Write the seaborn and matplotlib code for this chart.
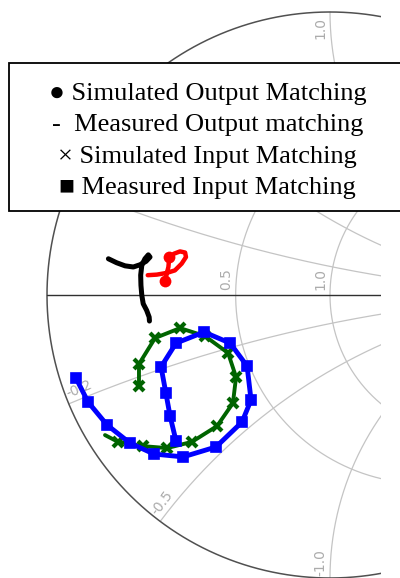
import numpy as np
import matplotlib
matplotlib.use("Agg")
import matplotlib.pyplot as plt
import seaborn as sns
from matplotlib.patches import Rectangle

# Simulated Output Matching (red, dots at two points)
sim_out_re = [-0.644, -0.612, -0.577, -0.548, -0.524, -0.509, -0.512, -0.530,
              -0.551, -0.568, -0.571, -0.577, -0.582]
sim_out_im = [0.070, 0.072, 0.078, 0.087, 0.111, 0.134, 0.150, 0.154,
              0.146, 0.134, 0.099, 0.075, 0.050]
sim_out_marks = [9, 12]

# Measured Output Matching (black)
meas_out_re = [-0.783, -0.754, -0.724, -0.695, -0.671, -0.650, -0.636, -0.642,
               -0.654, -0.665, -0.669, -0.668, -0.665, -0.660, -0.648, -0.639,
               -0.638]
meas_out_im = [0.128, 0.114, 0.103, 0.099, 0.107, 0.119, 0.134, 0.142,
               0.128, 0.105, 0.070, 0.034, -0.001, -0.031, -0.054, -0.078,
               -0.092]

# Simulated Input Matching (green, x markers)
sim_in_re = [-0.675, -0.675, -0.618, -0.530, -0.442, -0.360, -0.332, -0.343,
             -0.399, -0.488, -0.576, -0.661, -0.749, -0.795]
sim_in_im = [-0.322, -0.244, -0.152, -0.117, -0.145, -0.205, -0.290, -0.382,
             -0.463, -0.519, -0.541, -0.534, -0.519, -0.495]
sim_in_marks = list(range(13))

# Measured Input Matching (blue, square markers)
meas_in_re = [-0.898, -0.855, -0.788, -0.707, -0.622, -0.519, -0.403, -0.311,
              -0.279, -0.293, -0.353, -0.445, -0.544, -0.597, -0.580, -0.565,
              -0.544]
meas_in_im = [-0.293, -0.378, -0.459, -0.523, -0.562, -0.572, -0.537, -0.449,
              -0.371, -0.251, -0.170, -0.131, -0.170, -0.254, -0.346, -0.428,
              -0.516]

# Smith chart grid values and legend text
grid_r = [0.5, 1.0, 2.0, 5.0]
grid_x = [0.2, 0.5, 1.0, 2.0, 5.0]
r_labels = {0.5: "0.5", 1.0: "1.0"}
x_labels = {0.2: "0.2", 0.5: "0.5", 1.0: "1.0",
            -0.2: "-0.2", -0.5: "-0.5", -1.0: "-1.0"}
legend_lines = ["\u25cf Simulated Output Matching",
                "-  Measured Output matching",
                "\u00d7 Simulated Input Matching",
                "\u25a0 Measured Input Matching"]

# ---- Figure ----
sns.set_style("white")
plt.rcParams["font.family"] = ["DejaVu Sans"]

W, H = 400, 578
fig = plt.figure(figsize=(W / 100, H / 100), dpi=100)
S = 283.0  # pixels per unit of reflection coefficient
cx, cy = 330.0, 295.0
ax = fig.add_axes([0, 0, 381 / W, 1])
ax.set_xlim(-cx / S, (381 - cx) / S)
ax.set_ylim(-(H - cy) / S, cy / S)
ax.axis("off")

gc = "#c4c4c4"
tt = np.linspace(0, 2 * np.pi, 1441)
for r in grid_r:
    c = r / (1 + r)
    rad = 1 / (1 + r)
    ax.plot(c + rad * np.cos(tt), rad * np.sin(tt), color=gc, lw=0.9, zorder=1)
rr = np.concatenate([np.linspace(0, 1, 300), np.logspace(0, 4, 600)])
for xv in grid_x:
    for s in (1, -1):
        g = (rr + 1j * s * xv - 1) / (rr + 1j * s * xv + 1)
        ax.plot(g.real, g.imag, color=gc, lw=0.9, zorder=1)
ax.plot(np.cos(tt), np.sin(tt), color="#505050", lw=1.1, zorder=2)
ax.plot([-1, 1], [0, 0], color="#303030", lw=1.0, zorder=2)

lab_kw = dict(color="#acacac", fontsize=10, ha="center", va="center",
              rotation_mode="anchor", zorder=2)
A, B = 0.055, 0.033


def place(P, t, txt):
    t = np.asarray(t, float)
    t = t / np.hypot(*t)
    rd = t.copy()
    if rd[0] < -1e-9 or (abs(rd[0]) < 1e-9 and rd[1] < 0):
        rd = -rd
    m = np.array([-rd[1], rd[0]])
    c = np.asarray(P) + A * t + B * m
    ang = np.degrees(np.arctan2(rd[1], rd[0]))
    ax.text(c[0], c[1], txt, rotation=ang, **lab_kw)


for r, txt in r_labels.items():
    place(((r - 1) / (r + 1), 0.0), (0, 1), txt)
for xv, txt in x_labels.items():
    P = np.array([(xv ** 2 - 1) / (xv ** 2 + 1), 2 * xv / (xv ** 2 + 1)])
    C = np.array([1.0, 1.0 / xv])
    d = P - C
    t = np.array([-d[1], d[0]])
    if np.dot(t, P) > 0:
        t = -t
    place(P, t, txt)

# ---- Curves ----
sns.lineplot(x=meas_out_re, y=meas_out_im, sort=False, estimator=None,
             color="black", lw=3.6, ax=ax, zorder=4, legend=False)
sns.lineplot(x=sim_out_re, y=sim_out_im, sort=False, estimator=None,
             color="#ff0000", lw=3.2, marker="o", markersize=8.5,
             markevery=sim_out_marks, markeredgecolor="#ff0000",
             markeredgewidth=0, ax=ax, zorder=4, legend=False)
sns.lineplot(x=sim_in_re, y=sim_in_im, sort=False, estimator=None,
             color="#006400", lw=2.8, marker="x", markersize=7.5,
             markevery=sim_in_marks, markeredgecolor="#006400",
             markeredgewidth=3.0, ax=ax, zorder=4, legend=False)
sns.lineplot(x=meas_in_re, y=meas_in_im, sort=False, estimator=None,
             color="#0000ff", lw=3.5, marker="s", markersize=7.5,
             markeredgecolor="#0000ff", markeredgewidth=1.2,
             ax=ax, zorder=5, legend=False)

# ---- Legend box ----
box = Rectangle((8.5 / W, 1 - 211 / H), (404 - 8.5) / W, (211 - 63) / H,
                transform=fig.transFigure, facecolor="white",
                edgecolor="black", lw=1.3, zorder=10)
fig.patches.append(box)
baselines = [100, 131, 162.5, 193.5]
for txt, yb in zip(legend_lines, baselines):
    fig.text(207.5 / W, 1 - yb / H, txt, ha="center", va="baseline",
             fontsize=19, family=["Liberation Serif", "DejaVu Serif"],
             color="black", zorder=11)

fig.savefig("out.png", dpi=100)
